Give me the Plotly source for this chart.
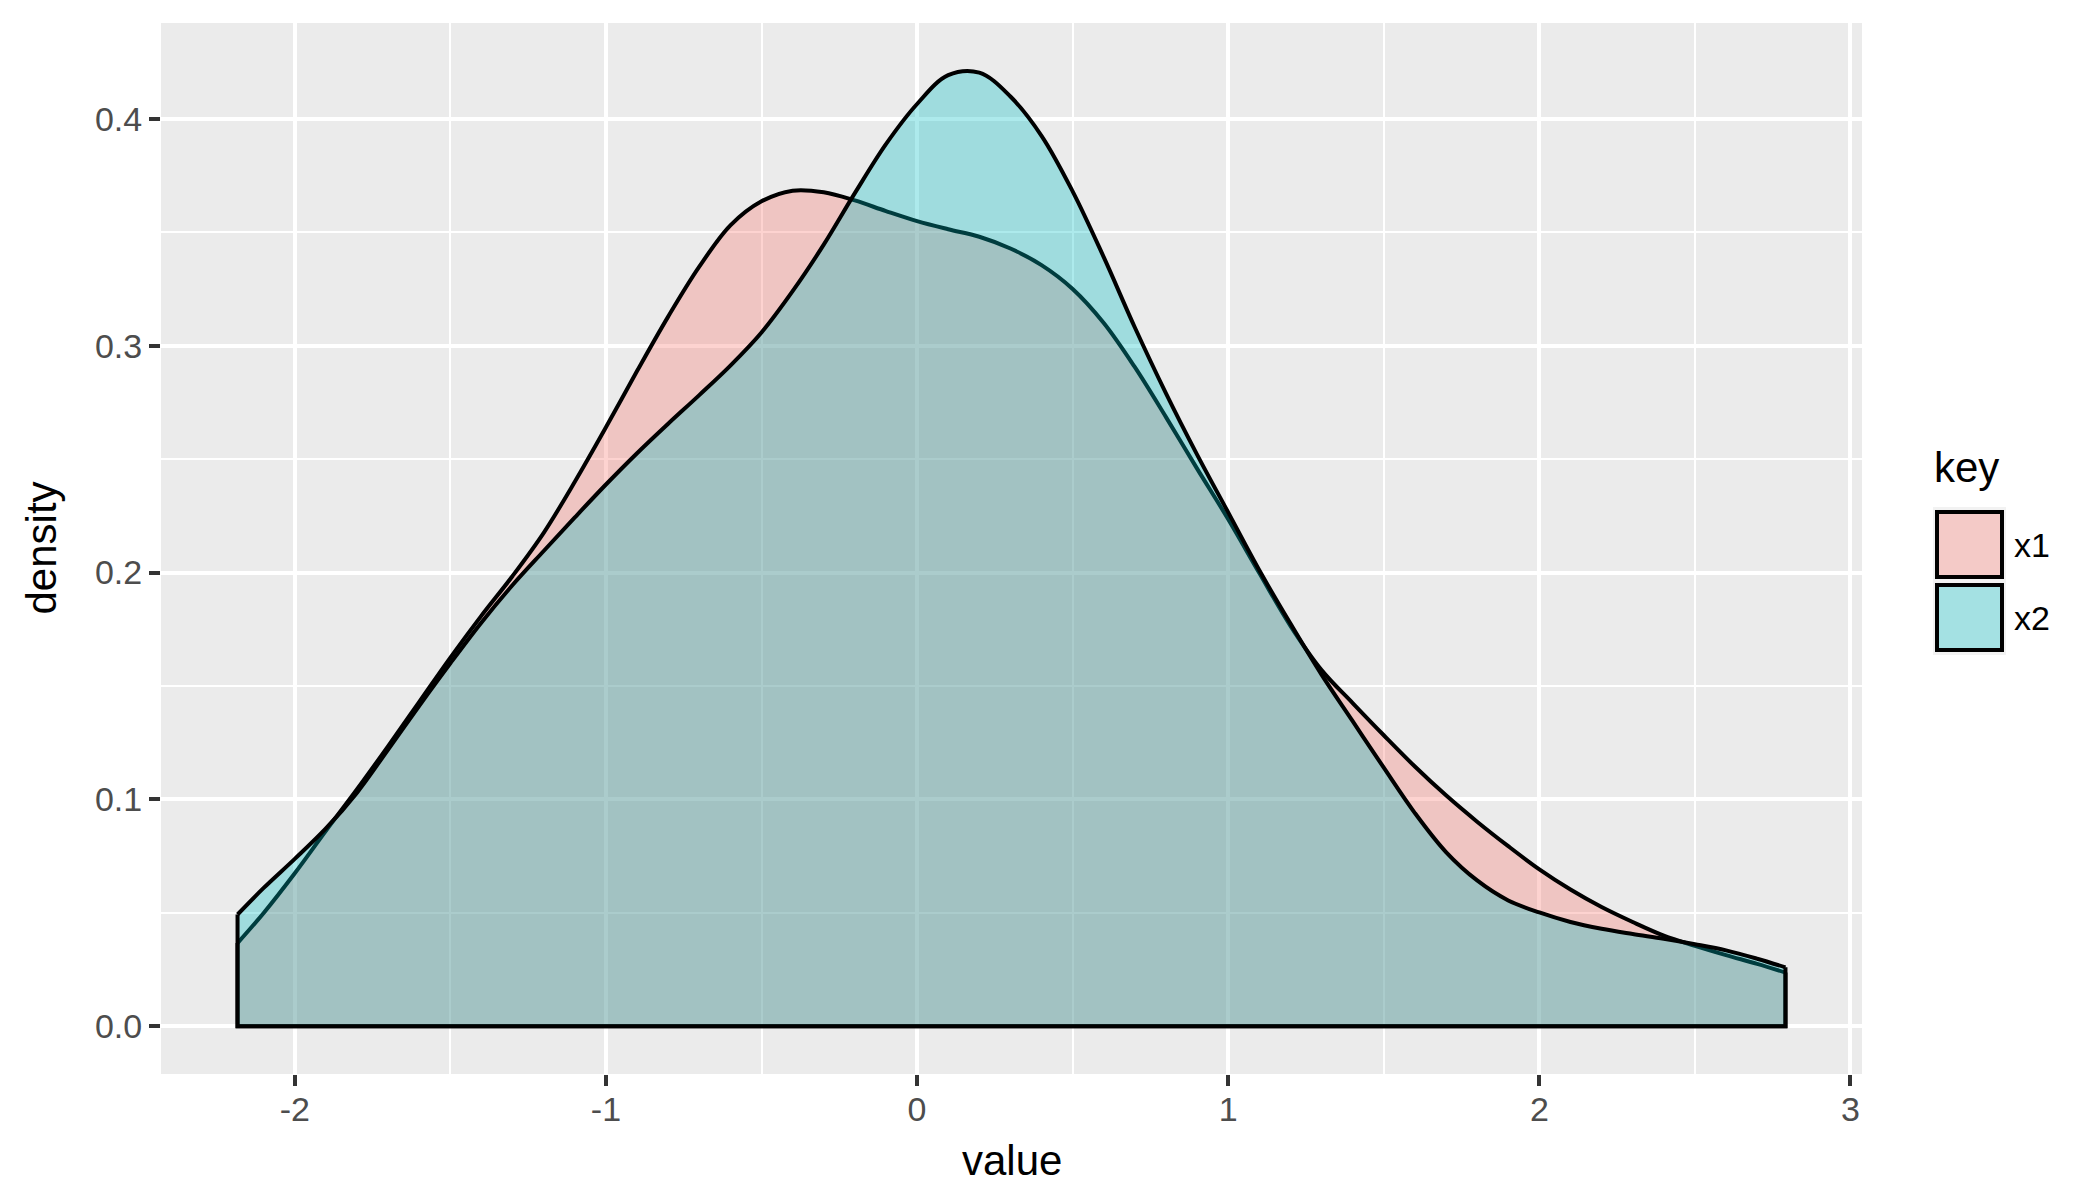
import plotly.graph_objects as go

# ---- data (kernel density estimates of x1 and x2) ----
value = [-2.184, -2.1, -2.0, -1.9, -1.8, -1.7, -1.6, -1.5, -1.4, -1.3, -1.2, -1.1, -1.0,
         -0.9, -0.8, -0.7, -0.6, -0.5, -0.4, -0.3, -0.2, -0.1, 0.0, 0.1, 0.2, 0.3, 0.4,
         0.5, 0.6, 0.7, 0.8, 0.9, 1.0, 1.1, 1.2, 1.3, 1.4, 1.5, 1.6, 1.7, 1.8, 1.9, 2.0,
         2.1, 2.2, 2.3, 2.4, 2.5, 2.6, 2.7, 2.791]
x1_density = [0.0367, 0.0500, 0.0675, 0.0862, 0.1045, 0.1235, 0.1430, 0.1625, 0.1810,
              0.1985, 0.2175, 0.2400, 0.2640, 0.2888, 0.3128, 0.3348, 0.3530, 0.3636,
              0.3683, 0.3676, 0.3640, 0.3593, 0.3549, 0.3513, 0.3480, 0.3428, 0.3355,
              0.3250, 0.3100, 0.2905, 0.2685, 0.2458, 0.2235, 0.1998, 0.1765, 0.1570,
              0.1425, 0.1283, 0.1145, 0.1018, 0.0902, 0.0794, 0.0692, 0.0603, 0.0526,
              0.0460, 0.0400, 0.0355, 0.0314, 0.0275, 0.0237]
x2_density = [0.0493, 0.0610, 0.0738, 0.0872, 0.1030, 0.1220, 0.1413, 0.1600, 0.1780,
              0.1945, 0.2095, 0.2243, 0.2388, 0.2526, 0.2656, 0.2782, 0.2912, 0.3058,
              0.3240, 0.3445, 0.3672, 0.3888, 0.4065, 0.4192, 0.4203, 0.4098, 0.3925,
              0.3680, 0.3390, 0.3080, 0.2790, 0.2520, 0.2265, 0.2010, 0.1775, 0.1550,
              0.1345, 0.1140, 0.0940, 0.0768, 0.0643, 0.0555, 0.0502, 0.0460, 0.0430,
              0.0407, 0.0386, 0.0362, 0.0335, 0.0298, 0.0260]

keys = ["x1", "x2"]
fill_colors = ["rgba(248,118,109,0.32)", "rgba(0,191,196,0.32)"]

x_ticks = [-2, -1, 0, 1, 2, 3]
x_tick_text = ["-2", "-1", "0", "1", "2", "3"]
y_ticks = [0.0, 0.1, 0.2, 0.3, 0.4]
y_tick_text = ["0.0", "0.1", "0.2", "0.3", "0.4"]

# ---- layout geometry (pixels) ----
W, H = 2100, 1200
L, R, T, B = 161, 1862, 23, 1074
def px(X):
    return (X - L) / (R - L)
def py(Y):
    return (B - Y) / (B - T)

FONT = "Liberation Sans, Arial, Helvetica, sans-serif"
LW = 4

fig = go.Figure()
series = [x1_density, x2_density]
for ys, col, name in zip(series, fill_colors, keys):
    xs = value
    fig.add_trace(go.Scatter(
        x=xs, y=ys, mode="lines", name=name, fill="tozeroy", fillcolor=col,
        line=dict(color="black", width=LW, shape="spline", smoothing=1.0),
        showlegend=False, hoverinfo="skip"))
    fig.add_trace(go.Scatter(
        x=[xs[0], xs[0], xs[-1], xs[-1]], y=[ys[0], 0, 0, ys[-1]], mode="lines",
        line=dict(color="black", width=LW), showlegend=False, hoverinfo="skip"))

axis_common = dict(
    showline=False, zeroline=False, ticks="outside", ticklen=11, tickwidth=4,
    tickcolor="#333333", showgrid=True, gridcolor="white", gridwidth=4,
    tickfont=dict(family=FONT, size=34, color="#4D4D4D"),
)
fig.update_xaxes(range=[-2.43, 3.037], tickmode="array", tickvals=x_ticks,
                 ticktext=x_tick_text,
                 minor=dict(dtick=0.5, tick0=0, showgrid=True, gridcolor="white",
                            gridwidth=2, ticks=""),
                 ticklabelstandoff=-6, **axis_common)
fig.update_yaxes(range=[-0.021, 0.4422], tickmode="array", tickvals=y_ticks,
                 ticktext=y_tick_text,
                 minor=dict(dtick=0.05, tick0=0, showgrid=True, gridcolor="white",
                            gridwidth=2, ticks=""),
                 ticklabelstandoff=0, **axis_common)

shapes = []
# legend key background
shapes.append(dict(type="rect", xref="paper", yref="paper",
                   x0=px(1933), x1=px(2006), y0=py(655), y1=py(507),
                   fillcolor="#F2F2F2", line=dict(width=0)))
key_boxes = [(512, 577), (585, 650)]
for (y0, y1), col in zip(key_boxes, fill_colors):
    shapes.append(dict(type="rect", xref="paper", yref="paper",
                       x0=px(1937), x1=px(2002), y0=py(y1), y1=py(y0),
                       fillcolor=col, line=dict(color="black", width=LW)))

annotations = [
    dict(text="value", x=0.5, y=py(1160), xref="paper", yref="paper",
         xanchor="center", yanchor="middle", showarrow=False,
         font=dict(family=FONT, size=42, color="black")),
    dict(text="density", x=px(41), y=0.5, xref="paper", yref="paper",
         xanchor="center", yanchor="middle", textangle=-90, showarrow=False,
         font=dict(family=FONT, size=42, color="black")),
    dict(text="key", x=px(1932), y=py(468), xref="paper", yref="paper",
         xanchor="left", yanchor="middle", showarrow=False,
         font=dict(family=FONT, size=42, color="black")),
]
for (y0, y1), name in zip(key_boxes, keys):
    annotations.append(dict(text=name, x=px(2012), y=py((y0 + y1) / 2), xref="paper",
                            yref="paper", xanchor="left", yanchor="middle",
                            showarrow=False,
                            font=dict(family=FONT, size=34, color="black")))

fig.update_layout(
    width=W, height=H, autosize=False,
    margin=dict(l=L, r=W - R, t=T, b=H - B, pad=0),
    plot_bgcolor="#EBEBEB", paper_bgcolor="white",
    shapes=shapes, annotations=annotations,
    font=dict(family=FONT),
)

fig.write_html("out.html")
